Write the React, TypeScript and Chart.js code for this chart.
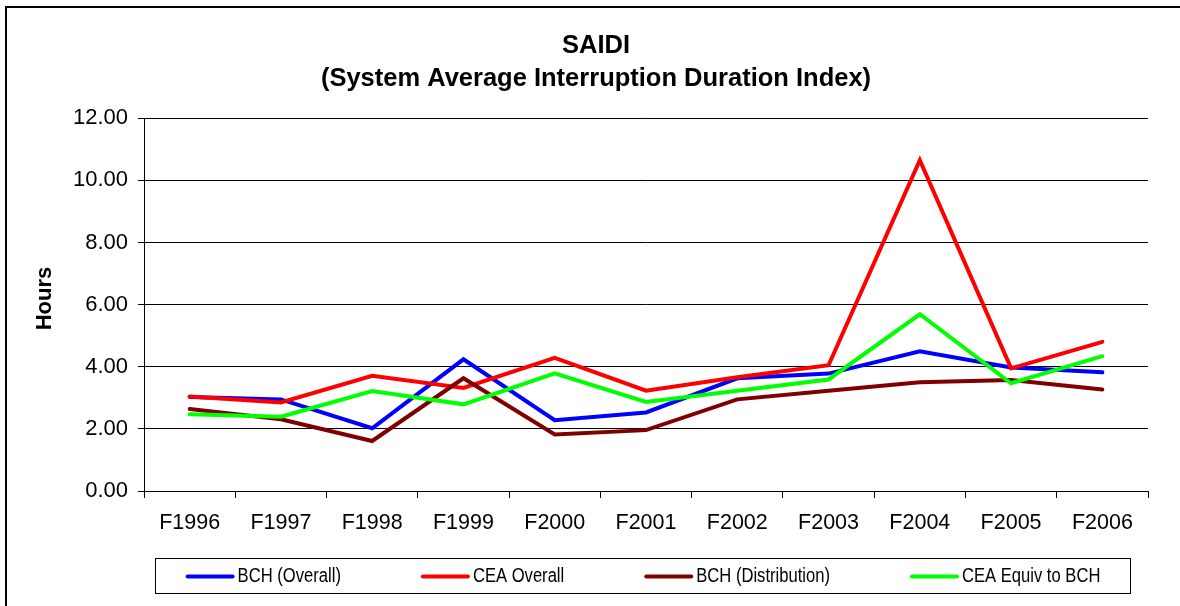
import React, { useEffect, useRef } from "react";
import { Chart, registerables } from "chart.js";

Chart.register(...registerables);

const categories = ["F1996", "F1997", "F1998", "F1999", "F2000", "F2001", "F2002", "F2003", "F2004", "F2005", "F2006"];
const bchOverall = [3.03, 2.95, 2.02, 4.24, 2.28, 2.53, 3.63, 3.78, 4.5, 3.98, 3.82];
const ceaOverall = [3.04, 2.85, 3.71, 3.32, 4.29, 3.23, 3.66, 4.05, 10.65, 3.95, 4.8];
const bchDistribution = [2.64, 2.31, 1.61, 3.63, 1.82, 1.96, 2.95, 3.23, 3.5, 3.57, 3.27];
const ceaEquiv = [2.47, 2.39, 3.22, 2.79, 3.79, 2.87, 3.23, 3.59, 5.69, 3.47, 4.34];
const seriesNames = ["BCH (Overall)", "CEA Overall", "BCH (Distribution)", "CEA Equiv to BCH"];
const seriesColors = ["#0000FF", "#FF0000", "#800000", "#00FF00"];
const titleLines = ["SAIDI", "(System Average Interruption Duration Index)"];
const yAxisTitle = "Hours";

const FONT = "'Liberation Sans', Arial, sans-serif";

const framePlugin = {
  id: "frameAndLegend",
  afterDraw(chart: any) {
    const ctx = chart.ctx as CanvasRenderingContext2D;
    ctx.save();
    // outer frame
    ctx.strokeStyle = "#000";
    ctx.lineWidth = 2;
    ctx.beginPath();
    ctx.moveTo(6, 640);
    ctx.lineTo(6, 7);
    ctx.lineTo(1200, 7);
    ctx.stroke();

    // y axis title
    ctx.save();
    ctx.translate(45, 298.5);
    ctx.rotate(-Math.PI / 2);
    ctx.font = `bold 22px ${FONT}`;
    ctx.fillStyle = "#000";
    ctx.textAlign = "center";
    ctx.textBaseline = "middle";
    ctx.fillText(yAxisTitle, 0, 0);
    ctx.restore();

    // legend box
    const box = { x: 155.5, y: 558.5, w: 975, h: 35 };
    ctx.lineWidth = 1;
    ctx.strokeStyle = "#000";
    ctx.strokeRect(box.x, box.y, box.w, box.h);

    const squeeze = 0.83;
    ctx.font = `20px ${FONT}`;
    const lineLen = 49;
    const gapText = 3;
    const gapItem = 80;
    const datasets = chart.data.datasets;
    const widths = datasets.map((d: any) => ctx.measureText(d.label).width * squeeze);
    let total = 0;
    widths.forEach((w: number) => (total += lineLen + gapText + w));
    total += gapItem * (datasets.length - 1);
    let x = box.x + (box.w - total) / 2;
    const cy = box.y + box.h / 2 + 0.5;
    datasets.forEach((d: any, i: number) => {
      ctx.strokeStyle = d.borderColor;
      ctx.lineWidth = 4;
      ctx.lineCap = "round";
      ctx.beginPath();
      ctx.moveTo(x + 2, cy);
      ctx.lineTo(x + lineLen - 2, cy);
      ctx.stroke();
      ctx.save();
      ctx.translate(x + lineLen + gapText, cy);
      ctx.scale(squeeze, 1);
      ctx.fillStyle = "#000";
      ctx.textBaseline = "middle";
      ctx.textAlign = "left";
      ctx.fillText(d.label, 0, 0);
      ctx.restore();
      x += lineLen + gapText + widths[i] + gapItem;
    });
    ctx.restore();
  },
};

export default function App() {
  const ref = useRef<HTMLCanvasElement | null>(null);

  useEffect(() => {
    if (!ref.current) return;
    const seriesData = [bchOverall, ceaOverall, bchDistribution, ceaEquiv];
    const chart = new Chart(ref.current, {
      type: "line",
      data: {
        labels: categories,
        datasets: seriesData.map((d, i) => ({
          label: seriesNames[i],
          data: d,
          borderColor: seriesColors[i],
          backgroundColor: seriesColors[i],
          borderWidth: 4,
          pointRadius: 0,
          pointHoverRadius: 0,
          tension: 0,
          fill: false,
          borderCapStyle: "round" as const,
          borderJoinStyle: "miter" as const,
          order: seriesData.length - i,
        })),
      },
      options: {
        animation: false,
        responsive: false,
        devicePixelRatio: 1,
        layout: { padding: { left: 44, right: 32, top: 0, bottom: 0 } },
        plugins: {
          legend: { display: false },
          tooltip: { enabled: false },
          title: {
            display: true,
            text: titleLines,
            color: "#000",
            font: { family: FONT, size: 25.5, weight: "bold", lineHeight: 1.3 },
            padding: { top: 29, bottom: 23 },
          },
        },
        scales: {
          x: {
            type: "category",
            offset: true,
            afterFit(scale: any) {
              scale.height = 115;
            },
            grid: {
              offset: true,
              drawOnChartArea: false,
              drawTicks: true,
              tickLength: 7,
              color: "#000",
              lineWidth: 1,
            },
            border: { display: true, color: "#000", width: 1 },
            ticks: {
              color: "#000",
              font: { family: FONT, size: 21.5 },
              padding: 12,
              maxRotation: 0,
              autoSkip: false,
            },
          },
          y: {
            min: 0,
            max: 12,
            afterFit(scale: any) {
              scale.width = 100;
            },
            grid: {
              color: "#000",
              lineWidth: 1,
              drawTicks: true,
              tickLength: 6,
            },
            border: { display: true, color: "#000", width: 1 },
            ticks: {
              stepSize: 2,
              color: "#000",
              font: { family: FONT, size: 22 },
              padding: 10,
              callback: (v: any) => Number(v).toFixed(2),
            },
          },
        },
      },
      plugins: [framePlugin],
    });
    return () => chart.destroy();
  }, []);

  return (
    <div style={{ position: "absolute", left: 0, top: 0, width: 1180, height: 606, background: "#fff" }}>
      <canvas ref={ref} width={1180} height={606} style={{ display: "block" }} />
    </div>
  );
}
